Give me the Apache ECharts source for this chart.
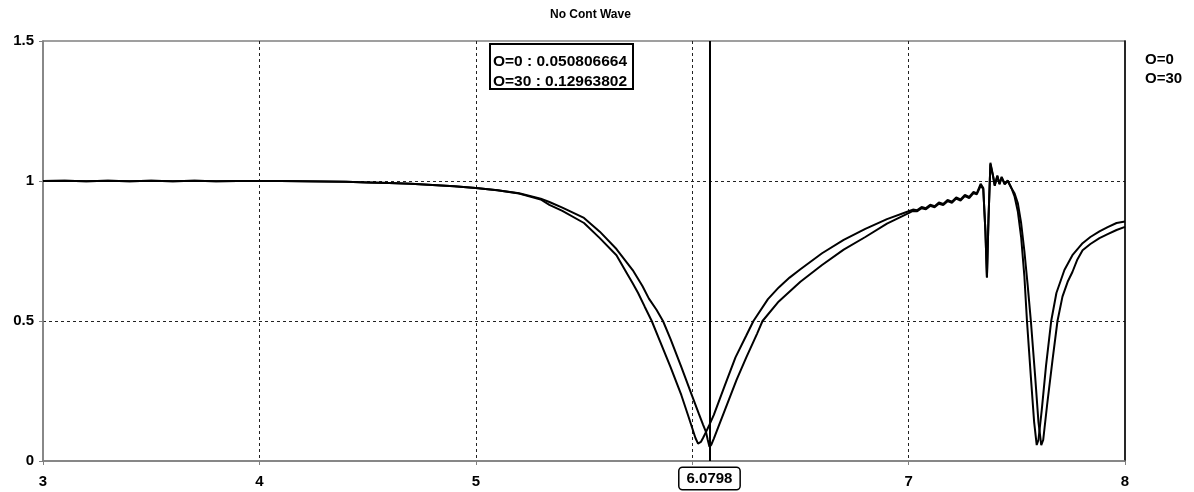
<!DOCTYPE html>
<html><head><meta charset="utf-8">
<script src="https://cdn.jsdelivr.net/npm/echarts@6/dist/echarts.min.js"></script>
<style>html,body{margin:0;padding:0;background:#fff}#c{width:1194px;height:492px}</style>
</head><body><div id="c"></div>
<script>
const TITLE = 'No Cont Wave';
const SERIES_NAMES = ['O=0', 'O=30'];
const CURSOR_X = 6.0798;

const x0 = [3.0,3.1,3.2,3.3,3.4,3.5,3.6,3.7,3.8,3.9,4.0,4.1,4.2,4.3,4.4,4.5,4.6,4.7,4.8,4.9,5.0,5.1,5.2,5.3,
  5.34,5.4,5.5,5.573,5.65,5.725,5.77,5.8,5.835,5.865,5.9,5.95,6.0,6.03,6.05,6.064,6.072,6.0798,6.088,6.1,6.12,6.15,6.205,6.25,6.3,6.325,6.4,6.5,6.6,6.7,6.8,6.9,7.0,
  7.02,7.04,7.06,7.08,7.10,7.12,7.14,7.16,7.18,7.20,7.22,7.24,7.26,7.28,7.30,7.315,7.333,7.345,7.355,7.362,7.369,7.378,7.39,7.398,7.41,7.42,7.43,7.444,7.458,7.475,
  7.49,7.505,7.52,7.535,7.55,7.565,7.585,7.60,7.613,7.622,7.64,7.665,7.688,7.711,7.735,7.757,7.78,7.804,7.84,7.882,7.92,7.961,8.0];
const y0 = [1.000,1.001,0.999,1.001,0.999,1.001,0.999,1.001,0.999,1.000,1.000,1.000,0.999,0.998,0.997,0.995,0.993,0.990,0.986,0.981,0.975,0.967,0.956,0.937,
  0.925,0.905,0.868,0.819,0.757,0.682,0.625,0.580,0.540,0.500,0.435,0.335,0.232,0.170,0.130,0.103,0.075,0.050806664,0.058,0.080,0.120,0.180,0.290,0.370,0.455,0.500,0.570,0.640,0.700,0.755,0.800,0.848,0.885,
  0.893,0.892,0.903,0.899,0.911,0.906,0.919,0.914,0.928,0.922,0.937,0.930,0.946,0.939,0.957,0.952,0.983,0.972,0.820,0.655,0.860,1.060,1.018,0.983,1.017,0.988,1.012,0.988,1.000,0.975,
  0.955,0.920,0.850,0.750,0.630,0.500,0.300,0.140,0.057,0.075,0.200,0.360,0.500,0.587,0.640,0.675,0.720,0.753,0.775,0.796,0.810,0.825,0.836];

const x30 = [3.0,3.1,3.2,3.3,3.4,3.5,3.6,3.7,3.8,3.9,4.0,4.1,4.2,4.3,4.4,4.5,4.6,4.7,4.8,4.9,5.0,5.1,5.2,5.3,
  5.34,5.4,5.5,5.573,5.65,5.7,5.725,5.75,5.78,5.813,5.85,5.9,5.95,5.98,6.0,6.015,6.027,6.04,6.05,6.064,6.0798,6.1,6.15,6.2,6.25,6.283,6.35,6.4,6.45,6.5,6.6,6.7,6.8,6.9,7.0,
  7.02,7.04,7.06,7.08,7.10,7.12,7.14,7.16,7.18,7.20,7.22,7.24,7.26,7.28,7.30,7.315,7.333,7.345,7.355,7.362,7.369,7.378,7.39,7.398,7.41,7.42,7.43,7.444,7.458,7.475,
  7.49,7.505,7.52,7.535,7.547,7.565,7.58,7.592,7.60,7.615,7.635,7.659,7.683,7.72,7.757,7.804,7.84,7.882,7.92,7.961,8.0];
const y30 = [1.000,1.001,0.999,1.001,0.999,1.001,0.999,1.001,0.999,1.000,1.000,1.000,0.999,0.998,0.997,0.995,0.993,0.990,0.986,0.981,0.975,0.967,0.955,0.934,
  0.915,0.893,0.850,0.796,0.735,0.668,0.635,0.600,0.552,0.500,0.430,0.335,0.235,0.165,0.118,0.082,0.062,0.068,0.082,0.104,0.12963802,0.165,0.268,0.370,0.448,0.500,0.578,0.620,0.655,0.685,0.742,0.790,0.829,0.864,0.892,
  0.898,0.896,0.907,0.903,0.915,0.910,0.923,0.918,0.932,0.926,0.941,0.934,0.950,0.943,0.961,0.956,0.990,0.975,0.820,0.657,0.860,1.065,1.020,0.985,1.020,0.990,1.015,0.990,1.002,0.975,
  0.944,0.890,0.800,0.660,0.500,0.300,0.140,0.057,0.075,0.180,0.340,0.500,0.600,0.682,0.735,0.778,0.800,0.820,0.835,0.850,0.855];

const FONT = 'Liberation Sans';
const pairs = (xs, ys) => xs.map((x, i) => [x, ys[i]]);
const valAt = (xs, ys, x) => ys[xs.indexOf(x)];
const tipLines = [
  SERIES_NAMES[0] + ' : ' + valAt(x0, y0, CURSOR_X),
  SERIES_NAMES[1] + ' : ' + valAt(x30, y30, CURSOR_X)
];

const chart = echarts.init(document.getElementById('c'), null, {renderer: 'canvas'});
const labelFont = {fontFamily: FONT, fontWeight: 'bold', fontSize: 15, color: '#000'};

chart.setOption({
  animation: false,
  title: {text: TITLE, left: 545, top: 4, textStyle: {fontFamily: FONT, fontWeight: 'bold', fontSize: 12, color: '#000'}},
  legend: {
    data: SERIES_NAMES, orient: 'vertical', left: 1135, top: 47, itemWidth: 0, itemHeight: 0, itemGap: 4,
    selectedMode: false, icon: 'rect', textStyle: labelFont
  },
  grid: {left: 43, right: 69, top: 41, bottom: 31, show: true, borderColor: '#808080', borderWidth: 1.5, backgroundColor: '#fff'},
  xAxis: {
    type: 'value', min: 3, max: 8, interval: 1,
    axisLine: {lineStyle: {color: '#808080', width: 1.5}},
    axisTick: {show: true, length: 4, lineStyle: {color: '#808080'}},
    axisLabel: Object.assign({margin: 13}, labelFont),
    splitLine: {show: true, showMinLine: false, showMaxLine: false, lineStyle: {color: '#222', type: [3, 3], width: 1}},
    axisPointer: {
      show: true, type: 'line', value: CURSOR_X, status: 'show', snap: false, triggerTooltip: false,
      lineStyle: {color: '#000', width: 2, type: 'solid'},
      label: Object.assign({
        show: true, formatter: () => CURSOR_X.toFixed(4), backgroundColor: '#fff',
        borderColor: '#000', borderWidth: 1.5, padding: [3, 7], margin: 7
      }, labelFont)
    }
  },
  yAxis: [{
    type: 'value', min: 0, max: 1.5, interval: 0.5,
    axisLine: {show: true, lineStyle: {color: '#808080', width: 1.5}},
    axisTick: {show: true, length: 4, lineStyle: {color: '#808080'}},
    axisLabel: Object.assign({margin: 9}, labelFont),
    splitLine: {show: true, showMinLine: false, showMaxLine: false, lineStyle: {color: '#222', type: [3, 3], width: 1}}
  }, {
    type: 'value', position: 'right', min: 0, max: 1.5, interval: 0.5,
    axisLine: {show: true, lineStyle: {color: '#000', width: 1.5}},
    axisTick: {show: false}, axisLabel: {show: false}, splitLine: {show: false}
  }],
  series: [
    {name: SERIES_NAMES[0], type: 'line', data: pairs(x0, y0), symbol: 'none', showSymbol: false,
     lineStyle: {color: '#000', width: 2}, itemStyle: {color: '#000'}},
    {name: SERIES_NAMES[1], type: 'line', data: pairs(x30, y30), symbol: 'none', showSymbol: false,
     lineStyle: {color: '#000', width: 2}, itemStyle: {color: '#000'}}
  ],
  graphic: [
    {type: 'rect', shape: {x: 490, y: 44, width: 143, height: 45}, style: {fill: '#fff', stroke: '#000', lineWidth: 2}, z: 100},
    {type: 'text', x: 493, y: 61.7, z: 101, style: {text: tipLines[0], font: 'bold 15.5px "Liberation Sans"', fill: '#000', verticalAlign: 'middle'}},
    {type: 'text', x: 493, y: 81.7, z: 101, style: {text: tipLines[1], font: 'bold 15.5px "Liberation Sans"', fill: '#000', verticalAlign: 'middle'}}
  ]
});
</script>
</body></html>
